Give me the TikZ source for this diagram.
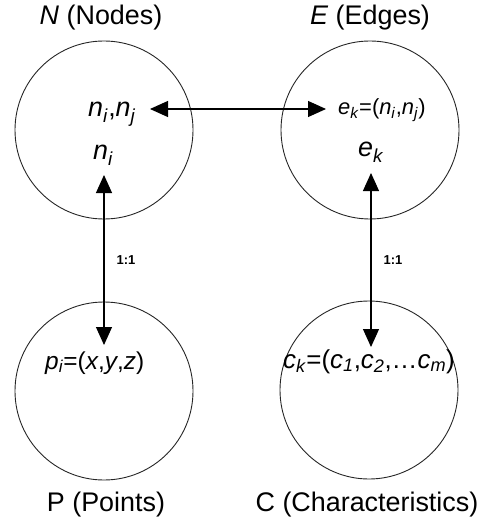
\documentclass[tikz,border=0pt]{standalone}
\usepackage{fontspec}
\setmainfont{Liberation Sans}
\usetikzlibrary{arrows.meta}
\newcommand{\mysub}[1]{\textsubscript{\textit{#1}}}
\begin{document}
\begin{tikzpicture}[x=1bp,y=-1bp,
  setcircle/.style={circle,draw=black!85,line width=0.9bp,minimum size=178bp,inner sep=0pt},
  heading/.style={font=\fontsize{27}{30}\selectfont,inner sep=0pt},
  bigtxt/.style={font=\fontsize{27}{30}\selectfont,inner sep=0pt,anchor=base west},
  midtxt/.style={font=\fontsize{22}{25}\selectfont,inner sep=0pt,anchor=base west},
  ptxt/.style={font=\fontsize{24.5}{27}\selectfont,inner sep=0pt,anchor=base west},
  ctxt/.style={font=\fontsize{26}{29}\selectfont,inner sep=0pt,anchor=base west},
  ratio/.style={font=\bfseries\fontsize{13}{15}\selectfont,inner sep=0pt},
  link/.style={line width=1.1bp,{Triangle[length=18bp,width=16bp]}-{Triangle[length=18bp,width=16bp]}}
]
\useasboundingbox (0,0) rectangle (496,518);
% circles
\node[setcircle] (N) at (104,130) {};
\node[setcircle] (E) at (370,130) {};
\node[setcircle] (P) at (104,391) {};
\node[setcircle] (C) at (369,390) {};
% headings
\node[heading] (Nh) at (101,18) {\textit{N} (Nodes)};
\node[heading] (Eh) at (370,18) {\textit{E} (Edges)};
\node[heading] (Ph) at (106,505) {P (Points)};
\node[heading] (Ch) at (367,505) {C (Characteristics)};
% inner texts
\node[bigtxt] (nij) at (88,117) {\textit{n}\mysub{i},\textit{n}\mysub{j}};
\node[bigtxt] (ni) at (93,160) {\textit{n}\mysub{i}};
\node[midtxt] (ekdef) at (338,115) {\textit{e}\mysub{k}=(\textit{n}\mysub{i},\textit{n}\mysub{j})};
\node[bigtxt] (ek) at (358,157) {\textit{e}\mysub{k}};
\node[ptxt] (pi) at (45,369) {\textit{p}\mysub{i}=(\textit{x},\textit{y},\textit{z})};
\node[ctxt] (ck) at (283,368) {\textit{c}\mysub{k}=(\textit{c}\mysub{1},\textit{c}\mysub{2},\dots\textit{c}\mysub{m})};
% connector ends
\coordinate (hL) at (150,109);
\coordinate (hR) at (326,109);
\coordinate (vLt) at (104,175);
\coordinate (vLb) at (104,345);
\coordinate (vRt) at (371,173);
\coordinate (vRb) at (371,347);
\draw[link] (hL) -- (hR);
\draw[link] (vLt) -- node[ratio,right=12bp] (r1) {1:1} (vLb);
\draw[link] (vRt) -- node[ratio,right=12bp] (r2) {1:1} (vRb);
\end{tikzpicture}
\end{document}
